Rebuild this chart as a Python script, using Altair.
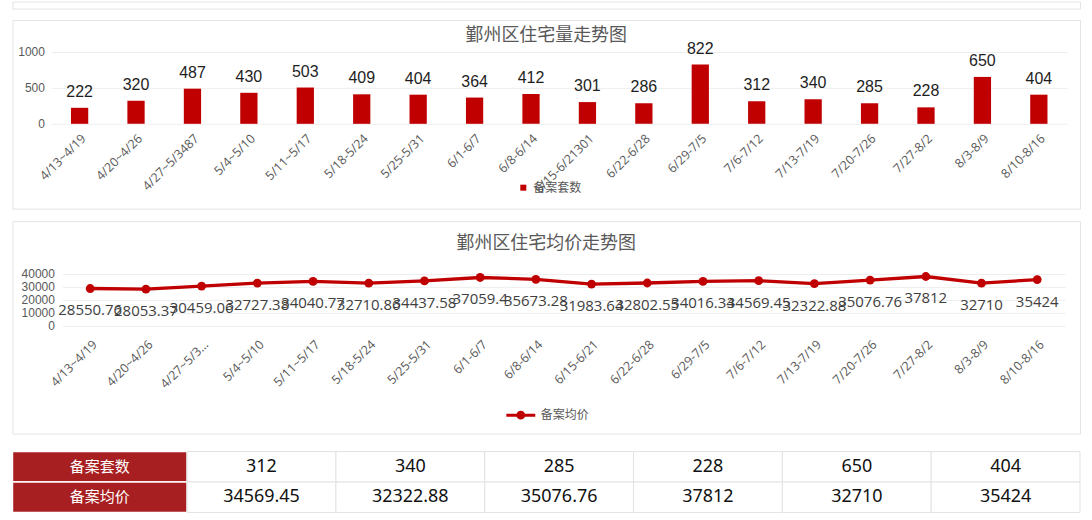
import altair as alt
import pandas as pd

# ---------------- data ----------------
periods_bar = ["4/13~4/19", "4/20~4/26", "4/27~5/3487", "5/4~5/10", "5/11~5/17",
               "5/18-5/24", "5/25-5/31", "6/1-6/7", "6/8-6/14", "6/15-6/21301",
               "6/22-6/28", "6/29-7/5", "7/6-7/12", "7/13-7/19", "7/20-7/26",
               "7/27-8/2", "8/3-8/9", "8/10-8/16"]
periods_line = ["4/13~4/19", "4/20~4/26", "4/27~5/3...", "5/4~5/10", "5/11~5/17",
                "5/18-5/24", "5/25-5/31", "6/1-6/7", "6/8-6/14", "6/15-6/21",
                "6/22-6/28", "6/29-7/5", "7/6-7/12", "7/13-7/19", "7/20-7/26",
                "7/27-8/2", "8/3-8/9", "8/10-8/16"]
counts = [222, 320, 487, 430, 503, 409, 404, 364, 412, 301, 286, 822, 312, 340, 285, 228, 650, 404]
prices = [28550.76, 28053.37, 30459.06, 32727.38, 34040.77, 32710.86, 34437.58, 37059.4,
          35673.28, 31983.64, 32802.55, 34016.34, 34569.45, 32322.88, 35076.76, 37812, 32710, 35424]
count_series = "备案套数"
price_series = "备案均价"
title_count = "鄞州区住宅量走势图"
title_price = "鄞州区住宅均价走势图"
count_ticks = [0, 500, 1000]
price_ticks = [0, 10000, 20000, 30000, 40000]
table_rows = [count_series, price_series]
table_first = 12  # table shows the last six periods

# ---------------- style ----------------
RED = "#C00000"
HDR = "#A81F22"
GRID = "#eeeeee"
BOX = "#e4e4e4"
TXT = "#595959"
CJK = "Noto Sans CJK SC"
W = 1070
H1, H2, H3 = 189, 213, 61

df1 = pd.DataFrame({"period": periods_bar, "count": counts, "series": count_series})
df2 = pd.DataFrame({"period": periods_line, "price": prices,
                    "label": [str(p) for p in prices], "series": price_series})

# ---------------- panel 1: bars ----------------
x1 = alt.X("period:N", sort=periods_bar,
           scale=alt.Scale(range=[39, 1057], paddingInner=0.694, paddingOuter=0.347),
           axis=alt.Axis(title=None, orient="bottom", offset=-85, labelAngle=-45,
                         labelFont="Open Sans", labelFontSize=12.5, labelColor=TXT,
                         ticks=False, tickSize=0, domain=False, grid=False,
                         labelPadding=8, labelOverlap=False, labelLimit=300))
y1 = alt.Y("count:Q", scale=alt.Scale(domain=[0, 1000], range=[104, 31.7], nice=False),
           axis=alt.Axis(title=None, values=count_ticks, format="d", offset=-35, ticks=False,
                         tickSize=0, domain=False, labelPadding=3, labelFont="Liberation Sans",
                         labelFontSize=12, labelColor=TXT, gridColor=GRID))

bars = alt.Chart(df1).mark_bar().encode(
    x=x1, y=y1,
    color=alt.Color("series:N", scale=alt.Scale(range=[RED]),
                    legend=alt.Legend(title=None, orient="none", legendX=506, legendY=162,
                                      symbolType="square", symbolSize=36, symbolStrokeWidth=0,
                                      labelFont=CJK, labelFontSize=12, labelColor=TXT,
                                      labelOffset=4)))
bar_text = alt.Chart(df1).mark_text(baseline="alphabetic", dy=-11, font="Liberation Sans",
                                    fontSize=16, color="#1e1e1e").encode(
    x=x1, y=y1, text="count:Q")

p1 = alt.layer(bars, bar_text).properties(
    width=W, height=H1,
    title=alt.TitleParams(title_count, font=CJK, fontSize=18, fontWeight="normal", color=TXT,
                          anchor="middle", frame="group", baseline="middle", offset=-34),
    view=alt.ViewBackground(stroke=BOX, fill="white"))

# ---------------- panel 2: line ----------------
x2 = alt.X("period:N", sort=periods_line,
           scale=alt.Scale(type="point", range=[50, 1055], padding=0.5),
           axis=alt.Axis(title=None, orient="bottom", offset=-108, labelAngle=-45,
                         labelFont="Open Sans", labelFontSize=12.5, labelColor=TXT,
                         ticks=False, tickSize=0, domain=False, grid=False,
                         labelPadding=12, labelOverlap=False, labelLimit=300))
y2 = alt.Y("price:Q", scale=alt.Scale(domain=[0, 40000], range=[104.7, 52.7], nice=False),
           axis=alt.Axis(title=None, values=price_ticks, format="d", offset=-45, ticks=False,
                         tickSize=0, domain=False, labelPadding=3, labelFont="Liberation Sans",
                         labelFontSize=12, labelColor=TXT, gridColor=GRID))

legend_path = "M-1,0L1,0M-0.2,0A0.2,0.2,0,1,0,0.2,0A0.2,0.2,0,1,0,-0.2,0Z"
line = alt.Chart(df2).mark_line(color=RED, strokeWidth=3.3).encode(x=x2, y=y2)
pts = alt.Chart(df2).mark_circle(size=78, opacity=1).encode(
    x=x2, y=y2,
    color=alt.Color("series:N", scale=alt.Scale(range=[RED]),
                    legend=alt.Legend(title=None, orient="none", legendX=493.5, legendY=178.5,
                                      symbolType=legend_path, symbolSize=841,
                                      symbolFillColor=RED, symbolStrokeColor=RED,
                                      symbolStrokeWidth=3,
                                      labelFont=CJK, labelFontSize=12, labelColor=TXT,
                                      labelOffset=4)))
line_text = alt.Chart(df2).mark_text(baseline="middle", dy=22, font="Open Sans",
                                     fontSize=15, color="#404040").encode(
    x=x2, y=y2, text="label:N")

p2 = alt.layer(line, pts, line_text).properties(
    width=W, height=H2,
    title=alt.TitleParams(title_price, font=CJK, fontSize=18, fontWeight="normal", color=TXT,
                          anchor="middle", frame="group", baseline="middle", offset=-40.5),
    view=alt.ViewBackground(stroke=BOX, fill="white"))

# ---------------- panel 3: table ----------------
tab_periods = periods_bar[table_first:]
df_head = pd.DataFrame({"row": table_rows})
rows = []
for per, c, p in zip(tab_periods, counts[table_first:], prices[table_first:]):
    rows.append({"period": per, "row": count_series, "value": str(c)})
    rows.append({"period": per, "row": price_series, "value": str(p)})
df_cells = pd.DataFrame(rows)

yh = alt.Y("row:N", sort=table_rows, axis=None,
           scale=alt.Scale(paddingInner=0, paddingOuter=0))
head_rect = alt.Chart(df_head).mark_rect(fill=HDR, stroke="white", strokeWidth=1.5).encode(y=yh)
head_text = alt.Chart(df_head).mark_text(font=CJK, fontSize=15, color="white").encode(
    y=yh, text="row:N")
header = alt.layer(head_rect, head_text).properties(width=175, height=H3)

xc = alt.X("period:N", sort=tab_periods, axis=None,
           scale=alt.Scale(paddingInner=0, paddingOuter=0))
cell_rect = alt.Chart(df_cells).mark_rect(fill="white", stroke="#e2e2e2", strokeWidth=1).encode(
    x=xc, y=yh)
cell_text = alt.Chart(df_cells).mark_text(font="Noto Sans", fontSize=18, color="#111111").encode(
    x=xc, y=yh, text="value:N")
cells = alt.layer(cell_rect, cell_text).properties(width=W - 175, height=H3)

table = alt.hconcat(header, cells, spacing=0, bounds="flush")

# ---------------- top strip (edge of previous panel) ----------------
strip = alt.Chart(pd.DataFrame({"v": [0]})).mark_point(size=0, opacity=0).encode(
    x=alt.value(0), y=alt.value(0)).properties(
    width=W, height=7, view=alt.ViewBackground(stroke=BOX, fill="white"))

upper = alt.vconcat(p1, p2, spacing=10.5).resolve_scale(
    color="independent").resolve_legend(color="independent")
lower = alt.vconcat(upper, table, spacing=15.5).resolve_scale(
    color="independent").resolve_legend(color="independent")
chart = alt.vconcat(strip, lower, spacing=9.5).resolve_scale(
    color="independent").resolve_legend(color="independent").properties(
    padding={"left": 10.5, "top": 0, "right": 11, "bottom": 7},
    background="white"
).configure_view(stroke="transparent")

chart.save("out.html", embed_options={"renderer": "svg", "actions": False})
